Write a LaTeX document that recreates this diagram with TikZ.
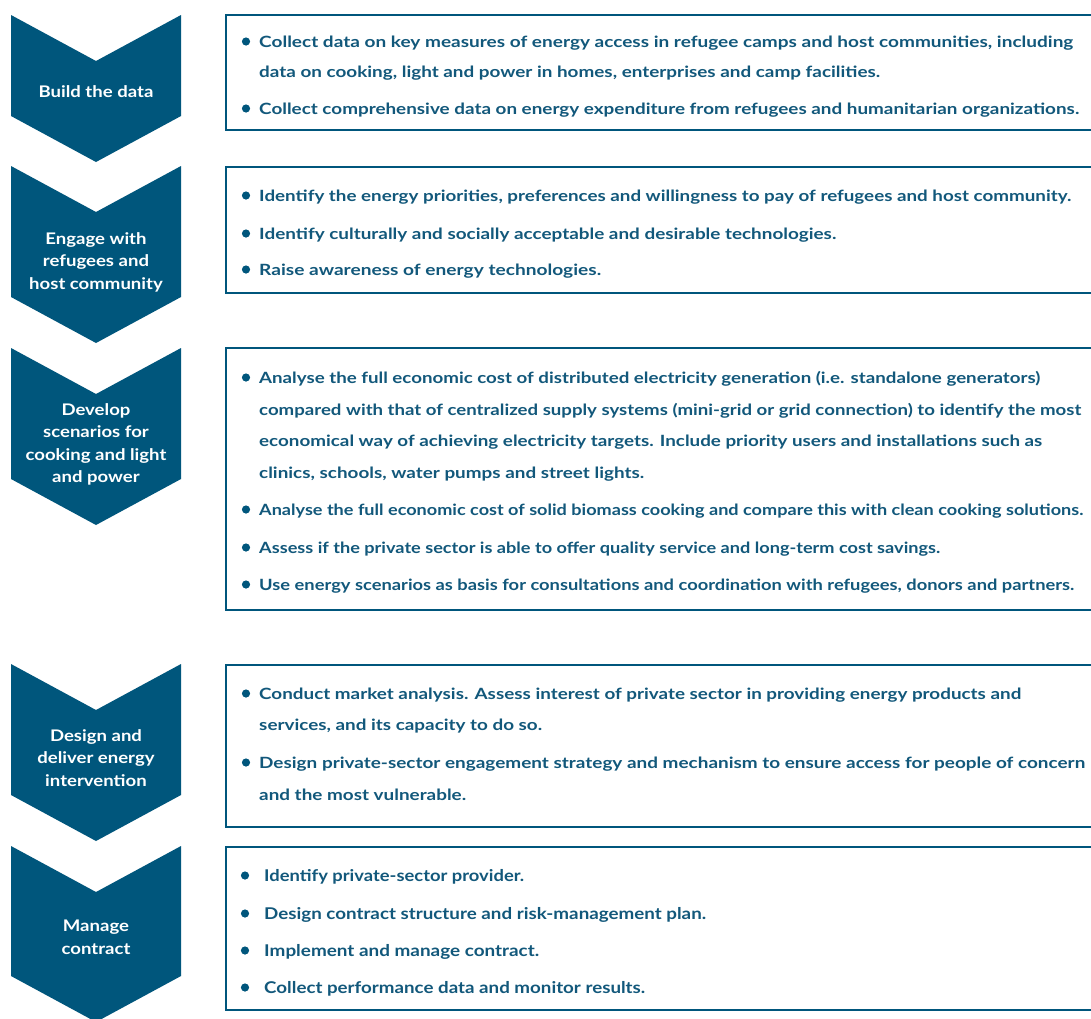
\documentclass[tikz,border=0pt]{standalone}
\usepackage{fontspec}
\usepackage{graphicx}
\setmainfont{Lato}[FakeStretch=1.16]
\definecolor{unblue}{RGB}{0,86,124}
\definecolor{txtblue}{RGB}{18,88,123}
\newsavebox\fitbox
\newcommand\fitto[2]{\sbox\fitbox{#2}\pgfmathsetmacro\fitsx{#1/\wd\fitbox}\scalebox{\fitsx}[1]{\usebox\fitbox}}
\newcommand\chevshape[2]{%
  \fill[chev] (11,#1) -- (96,{#1+46}) -- (181,#1) -- (181,#2) -- (96,{#2+46}) -- (11,#2) -- cycle;}
\newcommand\bul[4]{% name, baseline, width, text
  \node[dot] (#1d) at (246,{#2-5.5}) {};
  \node[item] (#1) at (259,#2) {\fitto{#3}{#4}};}
\newcommand\cont[4]{%
  \node[item] (#1) at (259,#2) {\fitto{#3}{#4}};}
\newcommand\bulb[4]{%
  \node[dot] (#1d) at (245,{#2-5.5}) {};
  \node[item5] (#1) at (264,#2) {\fitto{#3}{#4}};}
\begin{document}
\begin{tikzpicture}[x=1pt,y=-1pt,
  chev/.style={fill=unblue},
  box/.style={draw=unblue, line width=2.4pt},
  lab/.style={text=white, font=\fontsize{16}{22.5}\selectfont\bfseries, align=center, inner sep=0},
  item/.style={anchor=base west, inner sep=0, text=txtblue, font=\fontsize{15.5}{18}\selectfont\bfseries},
  item5/.style={item, font=\fontsize{16.2}{18}\selectfont\bfseries},
  dot/.style={circle, fill=unblue, inner sep=0, minimum size=8.2pt}]
\clip (0,0) rectangle (1091,1018);
\fill[white] (0,0) rectangle (1091,1018);
% chevrons
\chevshape{15}{116}
\chevshape{166}{297}
\chevshape{348}{479}
\chevshape{664}{795}
\chevshape{846}{976}
\node[lab] (c1) at (96,92) {Build the data};
\node[lab] (c2) at (96,262) {Engage with\\refugees and\\host community};
\node[lab] (c3) at (96,444.5) {Develop\\scenarios for\\cooking and light\\and power};
\node[lab] (c4) at (96,758) {Design and\\deliver energy\\intervention};
\node[lab] (c5) at (96,937.5) {Manage\\contract};
% boxes
\draw[box] (226,15) rectangle (1100,130);
\draw[box] (226,167) rectangle (1100,293);
\draw[box] (226,348) rectangle (1100,610);
\draw[box] (226,665) rectangle (1100,827);
\draw[box] (226,847) rectangle (1100,1010);
% box 1
\bul{a1}{47}{814}{Collect data on key measures of energy access in refugee camps and host communities, including}
\cont{a1b}{77}{621}{data on cooking, light and power in homes, enterprises and camp facilities.}
\bul{a2}{114}{820}{Collect comprehensive data on energy expenditure from refugees and humanitarian organizations.}
% box 2
\bul{b1}{201}{812}{Identify the energy priorities, preferences and willingness to pay of refugees and host community.}
\bul{b2}{239}{577}{Identify culturally and socially acceptable and desirable technologies.}
\bul{b3}{275}{342}{Raise awareness of energy technologies.}
% box 3
\bul{d1}{383}{781}{Analyse the full economic cost of distributed electricity generation (i.e. standalone generators)}
\cont{d1b}{415}{822}{compared with that of centralized supply systems (mini-grid or grid connection) to identify the most}
\cont{d1c}{446}{783}{economical way of achieving electricity targets. Include priority users and installations such as}
\cont{d1d}{478}{385}{clinics, schools, water pumps and street lights.}
\bul{d2}{515}{824}{Analyse the full economic cost of solid biomass cooking and compare this with clean cooking solutions.}
\bul{d3}{553}{681}{Assess if the private sector is able to offer quality service and long-term cost savings.}
\bul{d4}{590}{815}{Use energy scenarios as basis for consultations and coordination with refugees, donors and partners.}
% box 4
\bul{e1}{699}{762}{Conduct market analysis. Assess interest of private sector in providing energy products and}
\cont{e1b}{730}{283}{services, and its capacity to do so.}
\bul{e2}{768}{826}{Design private-sector engagement strategy and mechanism to ensure access for people of concern}
\cont{e2b}{800}{207}{and the most vulnerable.}
% box 5
\bulb{f1}{881}{260}{Identify private-sector provider.}
\bulb{f2}{919}{442}{Design contract structure and risk-management plan.}
\bulb{f3}{956}{275}{Implement and manage contract.}
\bulb{f4}{993}{381}{Collect performance data and monitor results.}
\end{tikzpicture}
\end{document}
